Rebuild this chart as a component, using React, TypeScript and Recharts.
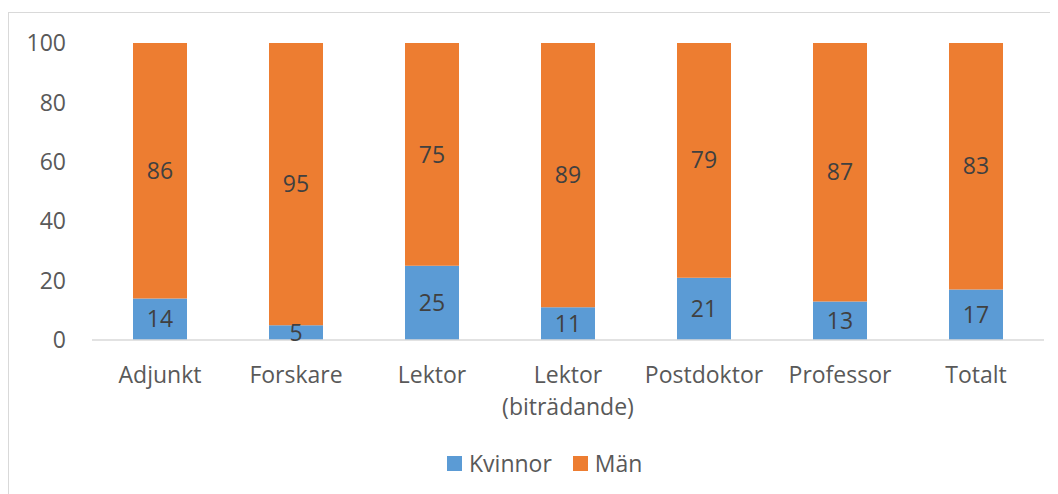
import React from "react";
import { BarChart, Bar, XAxis, YAxis, LabelList } from "recharts";

const categories = ["Adjunkt", "Forskare", "Lektor", "Lektor (biträdande)", "Postdoktor", "Professor", "Totalt"];
const kvinnor = [14, 5, 25, 11, 21, 13, 17];
const man = [86, 95, 75, 89, 79, 87, 83];
const yTicks = [0, 20, 40, 60, 80, 100];

const seriesNames = ["Kvinnor", "Män"];
const colors = ["#5B9BD5", "#ED7D31"];

const data = categories.map((name, i) => ({ name, kvinnor: kvinnor[i], man: man[i] }));

const FONT = "'Open Sans', sans-serif";

function CategoryTick(props: any) {
  const { x, y, payload } = props;
  const label: string = payload.value;
  const idx = label.indexOf(" (");
  const lines = idx > 0 ? [label.slice(0, idx), label.slice(idx + 1)] : [label];
  return (
    <text x={x} y={y} textAnchor="middle" fill="#595959" fontSize={23}>
      {lines.map((l, i) => (
        <tspan key={i} x={x} dy={i === 0 ? 35 : 32}>{l}</tspan>
      ))}
    </text>
  );
}

export default function App() {
  return (
    <div style={{ position: "relative", width: 1050, height: 486, overflow: "hidden", fontFamily: FONT }}>
      <div style={{ position: "absolute", left: 0, top: 4, width: 1200, height: 700, border: "1px solid #d9d9d9" }} />
      <div style={{ position: "absolute", left: 0, top: 0 }}>
        <BarChart width={1050} height={486} data={data} margin={{ top: 35, right: 14, left: 0, bottom: 54 }}>
          <XAxis
            dataKey="name" height={100} tickLine={false}
            axisLine={{ stroke: "#d9d9d9", strokeWidth: 1.5 }}
            tick={<CategoryTick />} interval={0}
          />
          <YAxis
            width={84} domain={[0, 100]} ticks={yTicks} axisLine={false} tickLine={false}
            tickMargin={20} tick={{ fontSize: 23, fill: "#595959" }}
          />
          <Bar dataKey="kvinnor" name={seriesNames[0]} stackId="a" fill={colors[0]} barSize={54} isAnimationActive={false}>
            <LabelList dataKey="kvinnor" position="center" fill="#404040" fontSize={23} />
          </Bar>
          <Bar dataKey="man" name={seriesNames[1]} stackId="a" fill={colors[1]} barSize={54} isAnimationActive={false}>
            <LabelList dataKey="man" position="center" fill="#404040" fontSize={23} />
          </Bar>
        </BarChart>
      </div>
      <div style={{ position: "absolute", left: 439, top: 438, display: "flex", alignItems: "center", fontSize: 23, color: "#595959", lineHeight: "34px" }}>
        {seriesNames.map((n, i) => (
          <div key={n} style={{ display: "flex", alignItems: "center", marginRight: 21 }}>
            <span style={{ width: 15, height: 15, background: colors[i], display: "inline-block", marginRight: 7 }} />
            <span>{n}</span>
          </div>
        ))}
      </div>
    </div>
  );
}
